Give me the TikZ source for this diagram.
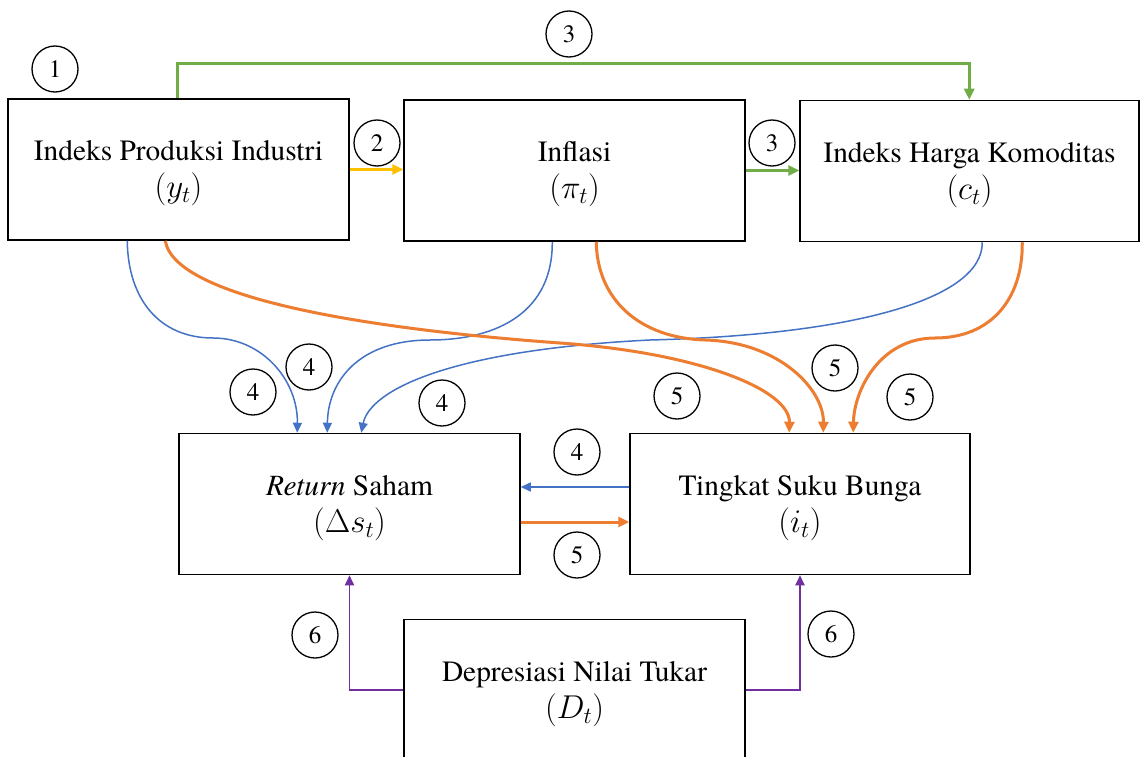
\RequirePackage{fix-cm}
\documentclass[tikz,border=0pt]{standalone}
\usepackage{fontspec}
\setmainfont{TeX Gyre Termes}
\usetikzlibrary{arrows.meta,calc}
\definecolor{cblue}{HTML}{4472C4}
\definecolor{corange}{HTML}{ED7D31}
\definecolor{cgreen}{HTML}{70AD47}
\definecolor{cyellow}{HTML}{FFC000}
\definecolor{cpurple}{HTML}{7030A0}
\newcommand{\mth}[1]{{\fontsize{33}{37}\selectfont$#1$}}
\tikzset{
  box/.style={draw, line width=1.5pt, minimum width=341pt, minimum height=141pt, inner sep=0pt},
  boxtext/.style={align=center, inner sep=0pt, font=\fontsize{29.4}{37}\selectfont},
  num/.style={circle, draw, line width=1.3pt, minimum size=46pt, inner sep=0pt,
    font=\fontsize{25}{25}\selectfont},
  thinblue/.style={cblue, line width=1.5pt, -{Triangle[length=10pt,width=9pt]}},
  thickorange/.style={corange, line width=3pt, -{Triangle[length=11pt,width=10pt]}},
  thickgreen/.style={cgreen, line width=2.6pt, -{Triangle[length=11pt,width=10pt]}},
  thickyellow/.style={cyellow, line width=3pt, -{Triangle[length=11pt,width=10pt]}},
  purp/.style={cpurple, line width=1.8pt, -{Triangle[length=10pt,width=9pt]}}
}
\begin{document}
\begin{tikzpicture}[x=1pt,y=-1pt]
\useasboundingbox (0,0) rectangle (1140,757);
\clip (0,0) rectangle (1140,757);
\fill[white] (0,0) rectangle (1140,757);

% boxes
\node[box] (A) at (178.5,169.5) {};
\node[box] (B) at (574.5,170.5) {};
\node[box, minimum width=339pt] (C) at (969.5,171) {};
\node[box] (D) at (349.5,504) {};
\node[box, minimum width=340pt] (E) at (800,504) {};
\node[box] (F) at (574.5,690) {};

% box texts
\node[boxtext] (At) at ([yshift=-4pt]A.center) {Indeks Produksi Industri\\\mth{(y_t)}};
\node[boxtext] (Bt) at ([yshift=-4pt]B.center) {Inflasi\\\mth{(\pi_t)}};
\node[boxtext] (Ct) at ([yshift=-4pt]C.center) {Indeks Harga Komoditas\\\mth{(c_t)}};
\node[boxtext] (Dt) at ([yshift=-4pt]D.center) {\textit{Return} Saham\\\mth{(\Delta s_t)}};
\node[boxtext] (Et) at ([yshift=-4pt]E.center) {Tingkat Suku Bunga\\\mth{(i_t)}};
\node[boxtext] (Ft) at ([yshift=-4pt]F.center) {Depresiasi Nilai Tukar\\\mth{(D_t)}};

% number circles
\node[num] (n1) at (55,69) {1};
\node[num] (n3a) at (569,34) {3};
\node[num] (n2) at (377,143) {2};
\node[num] (n3b) at (772,143) {3};
\node[num] (n4a) at (253,392) {4};
\node[num] (n4b) at (309,367) {4};
\node[num] (n4c) at (442,403) {4};
\node[num] (n4d) at (577,452) {4};
\node[num] (n5a) at (677,396) {5};
\node[num] (n5b) at (835,368) {5};
\node[num] (n5c) at (910,397) {5};
\node[num] (n5d) at (577,555) {5};
\node[num] (n6a) at (315,635) {6};
\node[num] (n6b) at (831,634) {6};

% helper coordinates
\coordinate (eL) at ($(E.west)+(0,-17)$);
\coordinate (dR) at ($(D.east)+(0,18)$);
\coordinate (aT) at ($(A.north west)+(170,0)$);
\coordinate (cT) at ($(C.north west)+(170,0)$);

% straight connectors
\draw[thickgreen] (aT) -- ++(0,-35) -| (cT);
\draw[thickyellow] (A.east) -- (A.east -| B.west);
\draw[thickgreen] (B.east) -- (B.east -| C.west);
\draw[thinblue] (eL) -- (eL -| D.east);
\draw[thickorange] (dR) -- (dR -| E.west);
\draw[purp] (F.west) -| (D.south);
\draw[purp] (F.east) -| (E.south);

% curved blue connectors to Return Saham
\draw[thinblue] ($(A.south west)+(120,0)$) .. controls (128,300) and (160,338) .. (213,338)
  .. controls (262,338) and (298,380) .. ($(D.north west)+(119,0)$);
\draw[thinblue] ($(B.south west)+(149,0)$) .. controls (553,310) and (500,340) .. (430,340)
  .. controls (360,340) and (328,380) .. ($(D.north west)+(149,0)$);
\draw[thinblue] ($(C.south west)+(183,0)$) .. controls (983,300) and (850,335) .. (650,340)
  .. controls (450,350) and (370,390) .. ($(D.north west)+(183,0)$);

% curved orange connectors to Tingkat Suku Bunga
\draw[thickorange] ($(A.south west)+(158,0)$) .. controls (175,300) and (380,330) .. (560,343)
  .. controls (700,353) and (790,390) .. ($(E.north west)+(160,0)$);
\draw[thickorange] ($(B.south west)+(193,0)$) .. controls (597,300) and (640,338) .. (705,340)
  .. controls (780,342) and (824,390) .. ($(E.north west)+(194,0)$);
\draw[thickorange] ($(C.south west)+(223,0)$) .. controls (1023,300) and (990,338) .. (935,338)
  .. controls (880,338) and (854,390) .. ($(E.north west)+(224,0)$);
\end{tikzpicture}
\end{document}
